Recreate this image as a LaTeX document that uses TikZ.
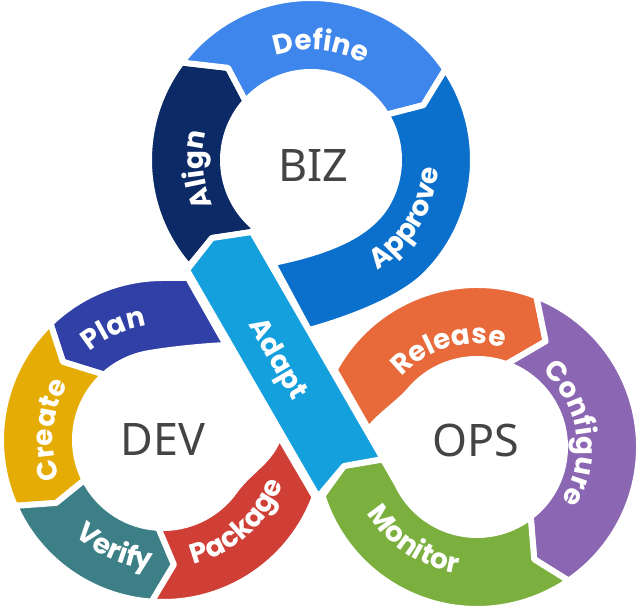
\documentclass[tikz,border=0pt]{standalone}
\usepackage{fontspec}
\setmainfont{Noto Sans}
\newfontfamily\segfam{Poppins}
\usetikzlibrary{calc,decorations.text}
\definecolor{cAlign}{HTML}{0B2A66}
\definecolor{cDefine}{HTML}{3E86EC}
\definecolor{cApprove}{HTML}{0B6FCC}
\definecolor{cAdapt}{HTML}{149FDD}
\definecolor{cPlan}{HTML}{3040A6}
\definecolor{cCreate}{HTML}{E6AC06}
\definecolor{cVerify}{HTML}{3C7F87}
\definecolor{cPackage}{HTML}{D03F36}
\definecolor{cRelease}{HTML}{E86A3A}
\definecolor{cConfigure}{HTML}{8B66B2}
\definecolor{cMonitor}{HTML}{7BB03F}
\definecolor{cHub}{HTML}{444444}
\newcommand\segtxt{\segfam\bfseries\fontsize{28}{28}\selectfont}
\begin{document}
\begin{tikzpicture}[x=1bp,y=1bp,
  seg/.style={fill=#1, draw=white, line width=6bp, line join=round},
  segtext/.style={decorate, decoration={text along path, text={|\segtxt|#1}, text align=center, text color=white}},
  hub/.style={font=\fontsize{45}{45}\selectfont, text=cHub, inner sep=0pt}]
\useasboundingbox (0,0) rectangle (640,609);
\fill[white] (0,0) rectangle (640,609);
\coordinate (B) at (311,449);
\coordinate (D) at (163,169);
\coordinate (O) at (477,162);
% BIZ ring
\path[seg=cAlign] ($(B)+(221:162)$) arc[start angle=221,end angle=143,radius=162] -- ($(B)+(132:124)$) -- ($(B)+(138:88)$) arc[start angle=138,end angle=230,radius=88] -- (252,377) -- (212,371) -- cycle;
\path[seg=cDefine] ($(B)+(143:162)$) arc[start angle=143,end angle=34,radius=162] -- ($(B)+(26:125)$) -- ($(B)+(31:88)$) arc[start angle=31,end angle=138,radius=88] -- ($(B)+(132:124)$) -- cycle;
\path[seg=cApprove] ($(B)+(34:162)$) arc[start angle=34,end angle=-45,radius=162] .. controls (400.9,309.7) and (349,290) .. (309,279) -- (273,346) .. controls (327,357) and (366,373) .. ($(B)+(-33:88)$) arc[start angle=-33,end angle=31,radius=88] -- ($(B)+(26:125)$) -- cycle;
% DEV ring
\path[seg=cPlan] ($(D)+(134:162)$) arc[start angle=134,end angle=90,radius=162] -- (188,331) -- (226,264) .. controls (206,263) and (172,260) .. ($(D)+(100:88)$) arc[start angle=100,end angle=132,radius=88] -- ($(D)+(142:127)$) -- cycle;
\path[seg=cCreate] ($(D)+(134:162)$) arc[start angle=134,end angle=204,radius=162] -- ($(D)+(210.5:124)$) -- ($(D)+(207:88)$) arc[start angle=207,end angle=132,radius=88] -- ($(D)+(142:127)$) -- cycle;
\path[seg=cVerify] ($(D)+(204:162)$) arc[start angle=204,end angle=266,radius=162] -- ($(D)+(275:125)$) -- ($(D)+(267:88)$) arc[start angle=267,end angle=207,radius=88] -- ($(D)+(210.5:124)$) -- cycle;
\path[seg=cPackage] ($(D)+(266:162)$) arc[start angle=266,end angle=339.4,radius=162] -- (279,173) .. controls (271,148) and (250,139) .. ($(D)+(325:88)$) arc[start angle=325,end angle=267,radius=88] -- ($(D)+(275:125)$) -- cycle;
% OPS ring
\path[seg=cRelease] ($(O)+(68.5:162)$) arc[start angle=68.5,end angle=151.5,radius=162] -- (369,179) .. controls (374,189) and (400,207) .. ($(O)+(140:88)$) arc[start angle=140,end angle=70.4,radius=88] -- ($(O)+(57:126)$) -- cycle;
\path[seg=cConfigure] ($(O)+(68.5:162)$) arc[start angle=68.5,end angle=-55.6,radius=162] -- ($(O)+(-63:126)$) -- ($(O)+(-52.4:88)$) arc[start angle=-52.4,end angle=70.4,radius=88] -- ($(O)+(57:126)$) -- cycle;
\path[seg=cMonitor] ($(O)+(197.5:162)$) arc[start angle=197.5,end angle=304.4,radius=162] -- ($(O)+(297:126)$) -- ($(O)+(307.6:88)$) arc[start angle=307.6,end angle=205,radius=88] -- (383,149.5) -- (344,143) -- cycle;
% Adapt band
\path[seg=cAdapt] (187,339) -- (212,371) -- (252,377) -- (383,150) -- (344,143) -- (318,112) -- cycle;
% labels along the bands
\path[segtext=Define] ($(B)+(130:110)$) arc[start angle=130,end angle=40,radius=110];
\path[segtext=Align] ($(B)+(230:108)$) arc[start angle=230,end angle=140,radius=108];
\path[segtext=Approve] ($(B)+(-75:128)$) arc[start angle=-75,end angle=12,radius=128];
\path[segtext=Adapt] (235.5,306.2) -- (305.5,185);
\path[segtext=Plan] ($(D)+(150:115)$) arc[start angle=150,end angle=78,radius=115];
\path[segtext=Create] ($(D)+(220:110)$) arc[start angle=220,end angle=130,radius=110];
\path[segtext=Verify] ($(D)+(205:130)$) arc[start angle=205,end angle=287,radius=130];
\path[segtext=Package] ($(D)+(-95:128)$) arc[start angle=-95,end angle=-1,radius=128];
\path[segtext=Release] ($(O)+(150:103)$) arc[start angle=150,end angle=62,radius=103];
\path[segtext=Configure] ($(O)+(55:100)$) arc[start angle=55,end angle=-38,radius=100];
\path[segtext=Monitor] ($(O)+(190:128)$) arc[start angle=190,end angle=282,radius=128];
% hub labels
\node[hub] (biz) at (313,443) {BIZ};
\node[hub] (dev) at (163,170) {DEV};
\node[hub] (ops) at (476,169) {OPS};
\end{tikzpicture}
\end{document}
